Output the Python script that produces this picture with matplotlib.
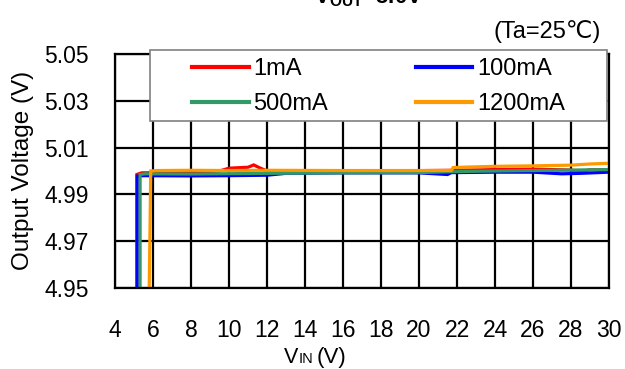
import matplotlib
matplotlib.use("Agg")
import matplotlib.pyplot as plt
from matplotlib.patches import Rectangle
import numpy as np

plt.rcParams['font.family'] = ['Liberation Sans', 'DejaVu Sans']

# series
vin_1ma = [5.15, 5.15, 5.4, 8, 9.5, 10, 10.5, 11, 11.3, 11.6, 12, 14, 18, 21.7, 24, 26, 28, 28.5, 29, 30]
vout_1ma = [4.95, 4.9985, 4.9992, 4.9995, 5.0000, 5.0012, 5.0014, 5.0016, 5.0026, 5.0014, 5.0000, 5.0000, 5.0000,
            5.0003, 5.0006, 5.0008, 5.0004, 4.9998, 5.0005, 5.0006]

vin_100ma = [5.17, 5.17, 5.5, 8, 10, 12, 13, 16, 20, 21.5, 21.7, 24, 26, 27.5, 28.5, 30]
vout_100ma = [4.95, 4.9978, 4.9980, 4.9979, 4.9980, 4.9982, 4.9990, 4.9992, 4.9992, 4.9985, 4.9993, 4.9995,
              4.9995, 4.9988, 4.9990, 4.9995]

vin_500ma = [5.32, 5.32, 5.6, 8, 12, 16, 20, 21.7, 24, 26, 28, 30]
vout_500ma = [4.95, 4.9985, 4.9988, 4.9987, 4.9990, 4.9992, 4.9993, 4.9997, 5.0000, 5.0002, 5.0004, 5.0006]

vin_1200ma = [5.8, 5.85, 5.88, 6.2, 8, 10, 12, 16, 20, 21.7, 21.8, 24, 26, 28, 29, 30]
vout_1200ma = [4.95, 4.98, 5.0000, 5.0002, 5.0003, 5.0002, 5.0003, 5.0002, 5.0002, 5.0002, 5.0015, 5.0020,
               5.0022, 5.0025, 5.0030, 5.0033]

labels = ['1mA', '100mA', '500mA', '1200mA']
colors = ['#FF0000', '#0000FF', '#339966', '#FF9900']

x_ticks = np.arange(4, 31, 2)
y_ticks = [4.95, 4.97, 4.99, 5.01, 5.03, 5.05]

W, H = 625, 369
fig = plt.figure(figsize=(6.25, 3.69), dpi=100)
ax = fig.add_axes([0.184, 0.2195, 0.7904, 0.6342])

series = [(vin_1ma, vout_1ma), (vin_100ma, vout_100ma), (vin_500ma, vout_500ma), (vin_1200ma, vout_1200ma)]
lines = []
for (x, y), lbl, c in zip(series, labels, colors):
    ln, = ax.plot(x, y, color=c, linewidth=2.3, label=lbl, solid_joinstyle='miter')
    lines.append(ln)

ax.set_xlim(4, 30)
ax.set_ylim(4.95, 5.05)
ax.set_xticks(x_ticks)
ax.set_yticks(y_ticks)
ax.set_yticklabels(['%.2f' % v for v in y_ticks])

# black grid and frame
ax.grid(True, color='black', linewidth=1.6)
ax.set_axisbelow(True)
for s in ax.spines.values():
    s.set_color('black')
    s.set_linewidth(1.6)

ax.tick_params(axis='both', which='both', length=0, labelsize=16.5)
ax.tick_params(axis='x', pad=22)
ax.tick_params(axis='y', pad=19)

fig.text(23 / W, 0.539, 'Output Voltage (V)', fontsize=17.5, rotation=90, ha='center', va='center')

# x label: V with small-caps "IN"
base = 1 - 363 / H
fig.text(284 / W, base, 'V', fontsize=15.5, ha='left', va='baseline')
fig.text(299 / W, base, 'IN', fontsize=10.5, ha='left', va='baseline')
fig.text(317 / W, base, '(V)', fontsize=16, ha='left', va='baseline')

# legend box (white, grey edge) overlapping the top of the plot
box = Rectangle((150 / W, 1 - 121 / H), 457 / W, 71 / H, transform=fig.transFigure,
                facecolor='white', edgecolor='#808080', linewidth=1.2, zorder=2)
fig.patches.append(box)

# row-wise order: 1mA, 100mA / 500mA, 1200mA
order = [0, 2, 1, 3]
leg = fig.legend([lines[i] for i in order], [labels[i] for i in order], ncol=2, loc='upper left',
                 bbox_to_anchor=(192 / W, 1 - 58 / H), frameon=False, borderpad=0, borderaxespad=0,
                 fontsize=17, handlelength=2.4, handletextpad=0.2, labelspacing=0.55, columnspacing=3.7)
leg.set_zorder(3)
for h in leg.get_lines():
    h.set_linewidth(3)

fig.text(0.962, 0.915, '(Ta=25℃)', fontsize=17, ha='right', va='center')
fig.text(0.589, 1 - 3 / H, r'V$_{\mathregular{OUT}}$=5.0V', fontsize=16, fontweight='bold',
         ha='center', va='baseline')

fig.savefig('out.png', dpi=100)
